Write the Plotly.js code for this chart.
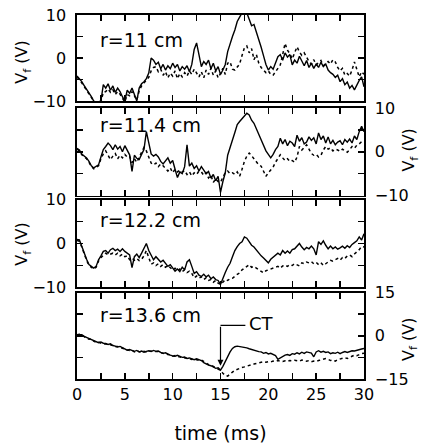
<!DOCTYPE html>
<html>
<head>
<meta charset="utf-8">
<script src="https://cdn.plot.ly/plotly-3.0.1.min.js"></script>
<style>html,body{margin:0;padding:0;background:#fff;}</style>
</head>
<body>
<div id="chart" style="width:429px;height:447px;"></div>
<script>
// time axis (ms)
var time = [
 0,0.25,0.5,0.75, 1,1.25,1.5,1.75, 2,2.25,2.5,2.75, 3,3.25,3.5,3.75, 4,4.25,4.5,4.75,
 5,5.25,5.5,5.75, 6,6.25,6.5,6.75, 7,7.25,7.5,7.75, 8,8.25,8.5,8.75, 9,9.25,9.5,9.75,
 10,10.25,10.5,10.75, 11,11.25,11.5,11.75, 12,12.25,12.5,12.75, 13,13.25,13.5,13.75, 14,14.25,14.5,14.75,
 15,15.25,15.5,15.75, 16,16.25,16.5,16.75, 17,17.25,17.5,17.75, 18,18.25,18.5,18.75, 19,19.25,19.5,19.75,
 20,20.25,20.5,20.75, 21,21.25,21.5,21.75, 22,22.25,22.5,22.75, 23,23.25,23.5,23.75, 24,24.25,24.5,24.75,
 25,25.25,25.5,25.75, 26,26.25,26.5,26.75, 27,27.25,27.5,27.75, 28,28.25,28.5,28.75, 29,29.25,29.5,29.75,
 30];

// r = 11 cm
var r11Solid = [
 -4.2,-4.8,-5.5,-6.4, -7.2,-8.1,-9,-10, -10.3,-10.2,-10,-6.2, -7,-6,-7.5,-6.5, -8,-7,-7.8,-9,
 -10,-7.5,-8.2,-7, -8.5,-10,-7,-6, -5.5,-4.8,-3.5,0, -0.5,-1.5,-1,-2.5, -1.5,-2.8,-1.8,-2.5,
 -1.2,-2.2,-1.5,-3, -2,-2.6,-1.8,-3.2, -1.5,2,3.5,0.5, -2,-0.8,-1.5,-0.5, -2.5,-1.2,-3,-2,
 -3.8,-2.8,-1.5,1.5, 3.5,5,6.5,8.5, 9.5,10.5,10.2,10.5, 9,7.5,7.8,6.2, 4.5,2.5,0.5,-1.5,
 -2.8,-2,-2.6,-1, 0.3,0.8,-0.5,1.2, 0.2,0.8,-1.6,-0.5, -1.2,0.4,-0.8,-1.8, -0.6,-2.2,-1.2,-2.4,
 -1.4,-2.2,-1,-2, -1.4,-2.8,-3.4,-3.8, -4.5,-4,-5.5,-4.8, -6.2,-5.6,-7,-6.4, -7.4,-6.2,-5.2,-4.4,
 -6.7];
var r11Dotted = [
 -4.5,-5,-5.8,-6.6, -7.5,-8.4,-9.2,-10, -10.4,-10.3,-10.2,-8, -7.8,-7.2,-8,-7.4, -8.5,-7.8,-8.4,-9.4,
 -10.2,-8.5,-8.8,-7.8, -8.8,-9.8,-7.6,-6.5, -5.8,-5,-4.5,-3, -2.2,-2,-3.2,-2.6, -4,-3.2,-4.6,-3.5,
 -4.2,-3,-4.8,-3.6, -4.4,-3.4,-4.2,-3, -3.8,-2.6,-3.4,-4.4, -3.2,-4.6,-2.8,-3.8, -2.4,-4,-3,-4.6,
 -3.6,-2.4,-3.8,-1.2, -0.9,-2.6,-2.8,-2.2, -1.4,0.6,2.4,2.8, 1.2,2.2,-0.4,0.8, -1.2,-2.2,-2.8,-3.4,
 -3,-3.8,-4,-3.2, -2.4,-1.6,0.8,3.4, 1.8,1,-0.2,1.2, 2.6,1.4,0.6,1.2, 0,-0.8,-1.4,-0.4,
 -1.6,-1,-0.6,-1.8, -1.2,-0.8,-1.4,-0.4, -0.9,-2.2,-3,-2.4, -4,-3.6,-4.2,-2.8, -0.9,-2.6,-4.4,-3.2,
 -3.8];

// r = 11.4 cm
var r114Solid = [
 0.8,0.4,-0.5,-1, -1.4,-2.2,-3.2,-3.7, -3.3,-3,-1.2,0.5, 1.2,2,1.4,0.5, 1.6,0.6,1.2,0,
 1.4,0.2,-0.7,-4.5, -0.8,-1.5,-1.8,-0.6, 0.5,4.6,2,-0.5, -1,-0.6,-1.2,-2.2, -2.8,-2,-1.4,-2.6,
 -2,-4,-5.9,-4.6, -5,-3.4,1.6,-3.3, -2.6,-3.8,-3.2,-4.4, -3.4,-4.2,-5,-4.5, -6,-5.2,-6.6,-5.6,
 -9.3,-6.8,-4.8,-0.8, 1.2,2.7,4.4,6.2, 6.9,7.6,8.3,8.8, 8.4,7.2,6.5,5.2, 4,3,1.6,0.2,
 -0.6,-1.4,-0.6,0.5, 1.2,3.1,1.8,2.8, 1.4,2.4,2,1.2, 3.8,2.4,3.2,1.8, 2.2,3.4,2.6,3.2,
 1.8,4.3,2.8,3.6, 2,3.4,1.8,2.6, 1.6,2.2,2.5,1.6, 2.8,2.2,2.9,2, 3.6,2.8,4.6,5.8,
 4.6];
var r114Dotted = [
 0.6,0.2,-0.7,-1.2, -1.6,-2.4,-3.4,-3.9, -3.5,-3.2,-1.6,-0.5, 0.2,-0.8,-1.8,-1, -0.4,-1.6,-0.8,-1.4,
 -0.6,-1.2,-1,-2.5, -1.6,-2.4,-1.2,-0.2, 1,0.2,-1.4,-2.6, -3,-2.6,-3.4,-2.8, -3.2,-3.8,-4.4,-3.7,
 -4.8,-4,-4.6,-4.2, -4.6,-4.3,-5.2,-4.6, -5.5,-4.8,-5.2,-4.4, -4.6,-5.4,-4.8,-6, -5.4,-7,-6.2,-6.8,
 -7,-5.8,-4.8,-4.4, -5,-4.8,-5.2,-4.6, -5.6,-4,-2.2,-1, -0.3,-0.9,-1.6,-2.4, -3,-3.3,-4.4,-5.6,
 -4.8,-4.2,-3.5,-2.4, -1.6,-0.7,-1.4,-2, -1.6,-2.2,-2,-2.4, -1.2,1.2,0.4,1, 1.6,0.6,-0.4,-0.8,
 -0.6,-1.2,-0.8,0.4, 1.2,0.6,0.9,0.2, 0.6,0.4,0.1,0.6, 0.3,-0.1,0.5,1.2, 0.8,1.5,1.8,2.3,
 2];

// r = 12.2 cm
var r122Solid = [
 0.9,0.8,-0.6,-2.2, -3.6,-4.8,-5.2,-5.6, -5.2,-3.7,-2.8,-1.8, -1.6,-2.2,-1.4,-1.1, -1.6,-1.3,-1.8,-1.2,
 -1.8,-2.2,-2.6,-5.5, -3,-2.4,-3.2,-2.2, -1,0,-1.6,-2.8, -3.7,-3,-3.6,-4.2, -3.8,-4.6,-5.2,-4.8,
 -5.6,-6.3,-5.8,-6.4, -5.4,-6,-4.2,-3.7, -5.2,-6.8,-6.4,-7.2, -7.5,-7,-7.6,-7.2, -8,-7.6,-8.2,-8.4,
 -9.3,-7.8,-6.6,-5.4, -4.5,-3,-1.6,-0.7, 0,0.4,1.5,1.2, 0.4,-0.4,-0.8,-1.5, -2.2,-2.8,-3.3,-3.8,
 -4.4,-3.6,-3.2,-2.6, -2.2,-2.6,-1.6,-2.2, -1.7,-2.2,-1.4,-1.2, -0.6,0,-0.8,-1.4, -0.9,-1.2,-0.6,-1.2,
 -2.6,0.4,-0.2,0.6, -0.4,-1.2,-0.6,-1.2, -0.8,-1.3,-1,-0.6, -1.1,-0.5,-0.9,-0.2, 0.2,0.6,1.5,0.8,
 2.2];
var r122Dotted = [
 0.7,0.5,-0.8,-2.4, -3.8,-5,-5.4,-5.8, -5.4,-4,-3.2,-2.6, -2.2,-2.6,-2.4,-2.2, -2.6,-2.2,-2.8,-2.4,
 -3,-2.8,-3.7,-3.3, -3.8,-3.4,-3.9,-3.6, -2.8,-1.6,-3.2,-4.7, -4.4,-5,-4.6,-5.2, -4.8,-5.4,-5,-5.6,
 -6,-5.6,-6.2,-5.8, -6.4,-6,-6.6,-6.3, -6.8,-7.8,-7.4,-7.9, -7.6,-8.2,-7.8,-8.4, -8.2,-8.8,-8.4,-9,
 -9.3,-8.8,-8.2,-8.4, -8,-7.9,-7.4,-7, -6.7,-6,-5.6,-5.2, -4.8,-5.4,-5.2,-5.6, -6,-6.4,-6.7,-6.2,
 -6,-5.8,-5.6,-5.4, -5.2,-5.6,-5.1,-4.9, -5.2,-4.8,-5,-4.6, -4.8,-5.1,-4.4,-4.6, -4.2,-4.4,-4.1,-4.6,
 -4.3,-4.8,-4.4,-5, -4.6,-4.2,-3.8,-4, -3.6,-3.4,-3.8,-3.2, -3.4,-2.8,-2.6,-3, -2.4,-2,-1.4,-0.7,
 -0.8];

// r = 13.6 cm
var r136Solid = [
 0.4,0.3,0.4,-0.2, -0.6,-1,-1.3,-1.8, -2.1,-2.4,-2.2,-2.6, -2.7,-3,-2.8,-3.4, -3.6,-3.9,-3.7,-4.2,
 -4.6,-5,-4.8,-5.2, -5.4,-5.1,-5.6,-5.3, -5.7,-5.4,-5.2,-5.5, -5.1,-5.4,-5.3,-5.8, -6.1,-5.9,-6.4,-6.7,
 -7,-7.1,-6.8,-7.3, -7.5,-7.4,-7.9,-7.7, -8,-8.3,-8,-8.4, -8.6,-9.3,-9.8,-10.2, -10.4,-10.8,-11.3,-11.1,
 -11.9,-10.6,-9,-7, -5.6,-4.4,-3.8,-3.6, -3.7,-3.8,-3.9,-4.2, -4.5,-4.8,-5,-5.3, -5.5,-5.6,-6.1,-5.8,
 -6.3,-6.1,-6.6,-6.9, -8.2,-7.6,-7,-6.7, -6.5,-6.8,-6.2,-6.4, -5.9,-6.3,-5.7,-6.1, -5.6,-5.9,-6,-7.3,
 -5.6,-5.2,-5.7,-5.4, -5.8,-5.6,-6.2,-5.9, -6.1,-5.7,-6.2,-5.8, -5.5,-5.8,-5.6,-5.2, -5.3,-5,-4.8,-4.6,
 -4.4];
var r136Dotted = [
 0.3,0.5,0.2,-0.4, -0.8,-1.2,-1.1,-1.9, -2.3,-2.2,-2.5,-2.9, -2.8,-3.2,-3.1,-3.6, -3.8,-3.7,-4,-4.4,
 -4.8,-4.9,-5.1,-5, -5.6,-5.2,-5.5,-5.7, -5.4,-5.6,-5.3,-5.4, -5.3,-5.6,-5.5,-5.9, -6,-6.3,-6.5,-6.6,
 -7.1,-6.9,-7.2,-7.4, -7.6,-7.6,-7.8,-7.9, -8.2,-8.1,-8.3,-8.5, -8.4,-9,-9.5,-10, -10.2,-10.6,-11,-11.4,
 -12,-13,-13.8,-14, -13.2,-12.6,-12,-11.6, -11.3,-11,-10.8,-10.5, -10.2,-10,-9.8,-9.6, -9.4,-9.3,-9,-9.2,
 -9,-9.1,-8.8,-8.9, -8.6,-8.8,-8.9,-8.7, -8.9,-8.6,-8.7,-8.5, -8.6,-8.8,-8.4,-8.7, -8.8,-8.6,-9,-8.8,
 -8.9,-8.6,-8.3,-8.2, -7.9,-8.2,-8.6,-8.4, -8.8,-8.3,-8.1,-7.9, -7.6,-7.9,-7.4,-7.1, -6.7,-6.9,-6.5,-6.2,
 -6.1];

var panelLabels = ['r=11 cm', 'r=11.4 cm', 'r=12.2 cm', 'r=13.6 cm'];
var xTickVals = [0,5,10,15,20,25,30];
var xTickText = ['0','5','10','15','20','25','30'];
var xMinorVals = [2.5,7.5,12.5,17.5,22.5,27.5];
var y10Vals = [-10,0,10];
var y10Text = ['\u221210','0','10'];
var y10Minor = [-5,5];
var y15Vals = [-15,0,15];
var y15Text = ['\u221215','0','15'];
var y15Minor = [-7.5,7.5];

var FONT = 'DejaVu Sans, sans-serif';
var solidSeries = [r11Solid, r114Solid, r122Solid, r136Solid];
var dottedSeries = [r11Dotted, r114Dotted, r122Dotted, r136Dotted];

var traces = [];
for (var i = 0; i < 4; i++) {
  var xa = i === 0 ? 'x' : 'x' + (i + 1);
  var ya = i === 0 ? 'y' : 'y' + (i + 1);
  traces.push({x: time, y: dottedSeries[i], xaxis: xa, yaxis: ya, type: 'scatter', mode: 'lines',
    line: {color: '#000', width: 1.5, dash: 'dot'}, hoverinfo: 'none'});
  traces.push({x: time, y: solidSeries[i], xaxis: xa, yaxis: ya, type: 'scatter', mode: 'lines',
    line: {color: '#000', width: 1.4}, hoverinfo: 'none'});
}

var domains = [[0.7637, 1], [0.5041, 0.7445], [0.2514, 0.4931], [0, 0.2376]];
var MINOR = function (vals) {
  return {tickmode: 'array', tickvals: vals, ticks: 'inside', ticklen: 6, tickwidth: 1.5, tickcolor: '#000', showgrid: false};
};

function xAxis(i) {
  return {
    domain: [0, 1], range: [0, 30], anchor: i === 0 ? 'y' : 'y' + (i + 1),
    tickmode: 'array', tickvals: xTickVals, ticktext: xTickText, showticklabels: i === 3,
    minor: MINOR(xMinorVals),
    ticks: 'inside', ticklen: 6, tickwidth: 1.5, tickcolor: '#000',
    showline: true, linewidth: 1.6, linecolor: '#000', mirror: 'ticks',
    showgrid: false, zeroline: false, fixedrange: true,
    tickfont: {family: FONT, size: 16, color: '#000'}
  };
}
function yAxis(i) {
  var right = (i === 1 || i === 3);
  var is15 = i === 3;
  return {
    domain: domains[i], range: is15 ? [-15, 15] : [-10, 10],
    anchor: i === 0 ? 'x' : 'x' + (i + 1), side: right ? 'right' : 'left',
    tickmode: 'array', tickvals: is15 ? y15Vals : y10Vals, ticktext: is15 ? y15Text : y10Text,
    minor: MINOR(is15 ? y15Minor : y10Minor),
    ticks: 'inside', ticklen: 6, tickwidth: 1.5, tickcolor: '#000',
    showline: true, linewidth: 1.6, linecolor: '#000', mirror: 'ticks',
    showgrid: false, zeroline: false, fixedrange: true, ticklabelstandoff: 6,
    tickfont: {family: FONT, size: 16, color: '#000'}
  };
}

var layout = {
  width: 429, height: 447,
  margin: {l: 77, r: 65, t: 15, b: 68},
  paper_bgcolor: '#fff', plot_bgcolor: '#fff',
  showlegend: false,
  xaxis: xAxis(0), xaxis2: xAxis(1), xaxis3: xAxis(2), xaxis4: xAxis(3),
  yaxis: yAxis(0), yaxis2: yAxis(1), yaxis3: yAxis(2), yaxis4: yAxis(3),
  annotations: [],
  shapes: []
};
layout.xaxis4.title = {text: 'time (ms)', font: {family: FONT, size: 19, color: '#000'}, standoff: 24};

var labelY = [4.2, 6.1, 5.3, 7.1];
for (var j = 0; j < 4; j++) {
  layout.annotations.push({
    text: panelLabels[j], xref: j === 0 ? 'x' : 'x' + (j + 1), yref: j === 0 ? 'y' : 'y' + (j + 1),
    x: 2.2, y: labelY[j], xanchor: 'left', yanchor: 'middle', showarrow: false,
    font: {family: FONT, size: 19, color: '#000'}
  });
}
// axis titles
var titleY = [0.87, 0.63, 0.37, 0.11];
var titleX = [-0.19, 1.16, -0.19, 1.16];
for (var k = 0; k < 4; k++) {
  layout.annotations.push({
    text: 'V<sub>f</sub> (V)', xref: 'paper', yref: 'paper', x: titleX[k], y: titleY[k],
    xanchor: 'center', yanchor: 'middle', textangle: -90, showarrow: false,
    font: {family: FONT, size: 16, color: '#000'}
  });
}
// CT marker
layout.annotations.push({
  text: '', xref: 'x4', yref: 'y4', x: 15, y: -10.4, axref: 'x4', ayref: 'y4', ax: 15, ay: 3.6,
  showarrow: true, arrowhead: 2, arrowsize: 1, arrowwidth: 1.2, arrowcolor: '#000'
});
layout.annotations.push({
  text: 'CT', xref: 'x4', yref: 'y4', x: 17.8, y: 4.3, xanchor: 'left', yanchor: 'middle', showarrow: false,
  font: {family: FONT, size: 18, color: '#000'}
});
layout.shapes.push({type: 'line', xref: 'x4', yref: 'y4', x0: 15, y0: 3.6, x1: 17.6, y1: 3.6,
  line: {color: '#000', width: 1.2}});

Plotly.newPlot('chart', traces, layout, {displayModeBar: false, staticPlot: true});
</script>
</body>
</html>
